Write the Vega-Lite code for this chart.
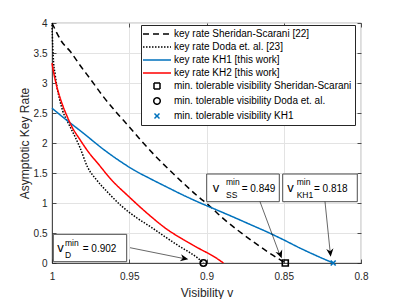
{
  "$schema": "https://vega.github.io/schema/vega-lite/v6.json",
  "width": 309,
  "height": 240,
  "autosize": {"type": "none"},
  "padding": {"left": 52, "top": 23, "right": 38, "bottom": 36},
  "background": "white",
  "config": {
    "font": "Liberation Sans",
    "view": {"stroke": "#262626", "strokeWidth": 0.8},
    "axis": {
      "labelFont": "Liberation Sans", "labelFontSize": 10, "labelColor": "#262626",
      "titleFont": "Liberation Sans", "titleFontSize": 12, "titleFontWeight": "normal", "titleColor": "#262626",
      "domainColor": "#262626", "domainWidth": 0.8, "tickColor": "#262626", "tickSize": -4, "tickWidth": 0.8,
      "gridColor": "#e3e3e3", "gridWidth": 1, "labelFlush": false, "labelOverlap": false
    },
    "axisX": {"tickCount": 4},
    "axisY": {"tickCount": 8},
    "legend": {
      "orient": "none", "legendX": 89, "legendY": 2, "title": null, "padding": 3,
      "fillColor": "white", "strokeColor": "#262626",
      "labelFont": "Liberation Sans", "labelFontSize": 10, "labelColor": "#000000", "labelLimit": 400,
      "symbolSize": 100, "symbolStrokeWidth": 1.5, "rowPadding": 2,
      "symbolOffset": 7, "labelOffset": 11, "symbolFillColor": "transparent"
    }
  },
  "datasets": {
    "curves": [
      {"series": "key rate Sheridan-Scarani [22]", "v": 1.0, "r": 4.0},
      {"series": "key rate Sheridan-Scarani [22]", "v": 0.997, "r": 3.84},
      {"series": "key rate Sheridan-Scarani [22]", "v": 0.994, "r": 3.7},
      {"series": "key rate Sheridan-Scarani [22]", "v": 0.988, "r": 3.52},
      {"series": "key rate Sheridan-Scarani [22]", "v": 0.982, "r": 3.3},
      {"series": "key rate Sheridan-Scarani [22]", "v": 0.975, "r": 3.06},
      {"series": "key rate Sheridan-Scarani [22]", "v": 0.967, "r": 2.78},
      {"series": "key rate Sheridan-Scarani [22]", "v": 0.958, "r": 2.5},
      {"series": "key rate Sheridan-Scarani [22]", "v": 0.95, "r": 2.27},
      {"series": "key rate Sheridan-Scarani [22]", "v": 0.942, "r": 2.03},
      {"series": "key rate Sheridan-Scarani [22]", "v": 0.933, "r": 1.78},
      {"series": "key rate Sheridan-Scarani [22]", "v": 0.924, "r": 1.55},
      {"series": "key rate Sheridan-Scarani [22]", "v": 0.915, "r": 1.33},
      {"series": "key rate Sheridan-Scarani [22]", "v": 0.906, "r": 1.12},
      {"series": "key rate Sheridan-Scarani [22]", "v": 0.898, "r": 0.95},
      {"series": "key rate Sheridan-Scarani [22]", "v": 0.89, "r": 0.76},
      {"series": "key rate Sheridan-Scarani [22]", "v": 0.88, "r": 0.55},
      {"series": "key rate Sheridan-Scarani [22]", "v": 0.87, "r": 0.36},
      {"series": "key rate Sheridan-Scarani [22]", "v": 0.86, "r": 0.18},
      {"series": "key rate Sheridan-Scarani [22]", "v": 0.849, "r": 0.0},
      {"series": "key rate Doda et. al. [23]", "v": 1.0, "r": 3.97},
      {"series": "key rate Doda et. al. [23]", "v": 0.9995, "r": 3.6},
      {"series": "key rate Doda et. al. [23]", "v": 0.999, "r": 3.35},
      {"series": "key rate Doda et. al. [23]", "v": 0.998, "r": 3.15},
      {"series": "key rate Doda et. al. [23]", "v": 0.997, "r": 2.97},
      {"series": "key rate Doda et. al. [23]", "v": 0.995, "r": 2.72},
      {"series": "key rate Doda et. al. [23]", "v": 0.993, "r": 2.53},
      {"series": "key rate Doda et. al. [23]", "v": 0.99, "r": 2.36},
      {"series": "key rate Doda et. al. [23]", "v": 0.9875, "r": 2.23},
      {"series": "key rate Doda et. al. [23]", "v": 0.985, "r": 2.1},
      {"series": "key rate Doda et. al. [23]", "v": 0.982, "r": 1.93},
      {"series": "key rate Doda et. al. [23]", "v": 0.977, "r": 1.6},
      {"series": "key rate Doda et. al. [23]", "v": 0.971, "r": 1.38},
      {"series": "key rate Doda et. al. [23]", "v": 0.964, "r": 1.18},
      {"series": "key rate Doda et. al. [23]", "v": 0.955, "r": 0.95},
      {"series": "key rate Doda et. al. [23]", "v": 0.945, "r": 0.75},
      {"series": "key rate Doda et. al. [23]", "v": 0.936, "r": 0.6},
      {"series": "key rate Doda et. al. [23]", "v": 0.927, "r": 0.44},
      {"series": "key rate Doda et. al. [23]", "v": 0.917, "r": 0.27},
      {"series": "key rate Doda et. al. [23]", "v": 0.91, "r": 0.16},
      {"series": "key rate Doda et. al. [23]", "v": 0.905, "r": 0.07},
      {"series": "key rate Doda et. al. [23]", "v": 0.902, "r": 0.0},
      {"series": "key rate KH1 [this work]", "v": 1.0, "r": 2.58},
      {"series": "key rate KH1 [this work]", "v": 0.99, "r": 2.37},
      {"series": "key rate KH1 [this work]", "v": 0.98, "r": 2.17},
      {"series": "key rate KH1 [this work]", "v": 0.967, "r": 1.9},
      {"series": "key rate KH1 [this work]", "v": 0.955, "r": 1.68},
      {"series": "key rate KH1 [this work]", "v": 0.947, "r": 1.55},
      {"series": "key rate KH1 [this work]", "v": 0.936, "r": 1.4},
      {"series": "key rate KH1 [this work]", "v": 0.926, "r": 1.27},
      {"series": "key rate KH1 [this work]", "v": 0.915, "r": 1.13},
      {"series": "key rate KH1 [this work]", "v": 0.904, "r": 1.0},
      {"series": "key rate KH1 [this work]", "v": 0.893, "r": 0.88},
      {"series": "key rate KH1 [this work]", "v": 0.883, "r": 0.77},
      {"series": "key rate KH1 [this work]", "v": 0.872, "r": 0.645},
      {"series": "key rate KH1 [this work]", "v": 0.861, "r": 0.52},
      {"series": "key rate KH1 [this work]", "v": 0.85, "r": 0.385},
      {"series": "key rate KH1 [this work]", "v": 0.84, "r": 0.255},
      {"series": "key rate KH1 [this work]", "v": 0.83, "r": 0.135},
      {"series": "key rate KH1 [this work]", "v": 0.818, "r": 0.0},
      {"series": "key rate KH2 [this work]", "v": 1.0, "r": 3.33},
      {"series": "key rate KH2 [this work]", "v": 0.9985, "r": 3.12},
      {"series": "key rate KH2 [this work]", "v": 0.997, "r": 2.95},
      {"series": "key rate KH2 [this work]", "v": 0.995, "r": 2.77},
      {"series": "key rate KH2 [this work]", "v": 0.9927, "r": 2.6},
      {"series": "key rate KH2 [this work]", "v": 0.99, "r": 2.43},
      {"series": "key rate KH2 [this work]", "v": 0.9873, "r": 2.28},
      {"series": "key rate KH2 [this work]", "v": 0.982, "r": 2.06},
      {"series": "key rate KH2 [this work]", "v": 0.977, "r": 1.87},
      {"series": "key rate KH2 [this work]", "v": 0.97, "r": 1.65},
      {"series": "key rate KH2 [this work]", "v": 0.962, "r": 1.4},
      {"series": "key rate KH2 [this work]", "v": 0.95, "r": 1.1},
      {"series": "key rate KH2 [this work]", "v": 0.938, "r": 0.82},
      {"series": "key rate KH2 [this work]", "v": 0.926, "r": 0.57},
      {"series": "key rate KH2 [this work]", "v": 0.915, "r": 0.39},
      {"series": "key rate KH2 [this work]", "v": 0.904, "r": 0.23},
      {"series": "key rate KH2 [this work]", "v": 0.896, "r": 0.12},
      {"series": "key rate KH2 [this work]", "v": 0.889, "r": 0.0}
    ],
    "markers": [
      {"series": "min. tolerable visibility Sheridan-Scarani", "v": 0.849, "r": 0},
      {"series": "min. tolerable visibility Doda et. al.", "v": 0.902, "r": 0},
      {"series": "min. tolerable visibility KH1", "v": 0.818, "r": 0}
    ]
  },
  "resolve": {"axis": {"x": "independent", "y": "independent"}},
  "layer": [
    {
      "layer": [
        {
          "data": {"name": "curves"},
          "mark": {"type": "line", "strokeWidth": 1.5, "interpolate": "monotone"},
          "encoding": {
            "x": {"field": "v", "type": "quantitative",
                  "scale": {"domain": [0.8, 1], "reverse": true, "nice": false, "zero": false},
                  "axis": {"tickCount": 4, "format": "~g", "title": "Visibility v", "labelPadding": 12, "titleY": 33.5, "titleBaseline": "alphabetic"}},
            "y": {"field": "r", "type": "quantitative",
                  "scale": {"domain": [0, 4], "nice": false},
                  "axis": {"tickCount": 8, "format": "~g", "title": "Asymptotic Key Rate", "labelPadding": 9, "titleX": -21, "titleY": 120}},
            "color": {"field": "series", "type": "nominal",
                      "scale": {"domain": ["key rate Sheridan-Scarani [22]", "key rate Doda et. al. [23]", "key rate KH1 [this work]", "key rate KH2 [this work]", "min. tolerable visibility Sheridan-Scarani", "min. tolerable visibility Doda et. al.", "min. tolerable visibility KH1"],
                                "range": ["#000000", "#000000", "#0072BD", "#FF0000", "#000000", "#000000", "#0072BD"]}},
            "strokeDash": {"field": "series", "type": "nominal",
                      "scale": {"domain": ["key rate Sheridan-Scarani [22]", "key rate Doda et. al. [23]", "key rate KH1 [this work]", "key rate KH2 [this work]", "min. tolerable visibility Sheridan-Scarani", "min. tolerable visibility Doda et. al.", "min. tolerable visibility KH1"],
                                "range": [[6, 4], [1.5, 1.5], [1, 0], [1, 0], [1, 0], [1, 0], [1, 0]]}}
          }
        },
        {
          "data": {"name": "markers"},
          "mark": {"type": "point", "filled": false, "size": 100, "strokeWidth": 1.6, "opacity": 1},
          "encoding": {
            "x": {"field": "v", "type": "quantitative"},
            "y": {"field": "r", "type": "quantitative"},
            "color": {"field": "series", "type": "nominal"},
            "shape": {"field": "series", "type": "nominal",
                      "scale": {"domain": ["key rate Sheridan-Scarani [22]", "key rate Doda et. al. [23]", "key rate KH1 [this work]", "key rate KH2 [this work]", "min. tolerable visibility Sheridan-Scarani", "min. tolerable visibility Doda et. al.", "min. tolerable visibility KH1"],
                                "range": ["M-2.8,0L2.8,0", "M-2.8,0L2.8,0", "M-2.8,0L2.8,0", "M-2.8,0L2.8,0", "M-0.6,-0.6L0.6,-0.6L0.6,0.6L-0.6,0.6Z", "M0.65,0A0.65,0.65 0 1,1 -0.65,0A0.65,0.65 0 1,1 0.65,0Z", "M-0.5,-0.5L0.5,0.5M-0.5,0.5L0.5,-0.5"]}}
          }
        },
        {
          "data": {"values": [{}]},
          "mark": {"type": "rect", "fill": "white", "stroke": "#4d4d4d", "strokeWidth": 1},
          "encoding": {"x": {"datum": 0.99916, "type": "quantitative"}, "x2": {"datum": 0.95165}, "y": {"datum": 0.0217, "type": "quantitative"}, "y2": {"datum": 0.478}}
        },
        {
          "data": {"values": [{}]},
          "mark": {"type": "rect", "fill": "white", "stroke": "#4d4d4d", "strokeWidth": 1},
          "encoding": {"x": {"datum": 0.89987, "type": "quantitative"}, "x2": {"datum": 0.85288}, "y": {"datum": 1.0217, "type": "quantitative"}, "y2": {"datum": 1.4833}}
        },
        {
          "data": {"values": [{}]},
          "mark": {"type": "rect", "fill": "white", "stroke": "#4d4d4d", "strokeWidth": 1},
          "encoding": {"x": {"datum": 0.85068, "type": "quantitative"}, "x2": {"datum": 0.8024}, "y": {"datum": 1.0217, "type": "quantitative"}, "y2": {"datum": 1.4833}}
        },
        {
          "data": {"values": [{}]},
          "mark": {"type": "text", "text": "v", "align": "left", "baseline": "alphabetic", "fontSize": 13, "color": "#000000"},
          "encoding": {"x": {"datum": 0.99657, "type": "quantitative"}, "y": {"datum": 0.1867, "type": "quantitative"}}
        },
        {
          "data": {"values": [{}]},
          "mark": {"type": "text", "text": "min", "align": "left", "baseline": "alphabetic", "fontSize": 8.5, "color": "#000000"},
          "encoding": {"x": {"datum": 0.99159, "type": "quantitative"}, "y": {"datum": 0.29, "type": "quantitative"}}
        },
        {
          "data": {"values": [{}]},
          "mark": {"type": "text", "text": "D", "align": "left", "baseline": "alphabetic", "fontSize": 8.5, "color": "#000000"},
          "encoding": {"x": {"datum": 0.99159, "type": "quantitative"}, "y": {"datum": 0.0833, "type": "quantitative"}}
        },
        {
          "data": {"values": [{}]},
          "mark": {"type": "text", "text": "= 0.902", "align": "left", "baseline": "alphabetic", "fontSize": 10, "color": "#000000"},
          "encoding": {"x": {"datum": 0.98013, "type": "quantitative"}, "y": {"datum": 0.1867, "type": "quantitative"}}
        },
        {
          "data": {"values": [{}]},
          "mark": {"type": "text", "text": "v", "align": "left", "baseline": "alphabetic", "fontSize": 13, "color": "#000000"},
          "encoding": {"x": {"datum": 0.89599, "type": "quantitative"}, "y": {"datum": 1.1883, "type": "quantitative"}}
        },
        {
          "data": {"values": [{}]},
          "mark": {"type": "text", "text": "min", "align": "left", "baseline": "alphabetic", "fontSize": 8.5, "color": "#000000"},
          "encoding": {"x": {"datum": 0.88738, "type": "quantitative"}, "y": {"datum": 1.2917, "type": "quantitative"}}
        },
        {
          "data": {"values": [{}]},
          "mark": {"type": "text", "text": "SS", "align": "left", "baseline": "alphabetic", "fontSize": 8.5, "color": "#000000"},
          "encoding": {"x": {"datum": 0.88738, "type": "quantitative"}, "y": {"datum": 1.0833, "type": "quantitative"}}
        },
        {
          "data": {"values": [{}]},
          "mark": {"type": "text", "text": "= 0.849", "align": "left", "baseline": "alphabetic", "fontSize": 10, "color": "#000000"},
          "encoding": {"x": {"datum": 0.87722, "type": "quantitative"}, "y": {"datum": 1.1883, "type": "quantitative"}}
        },
        {
          "data": {"values": [{}]},
          "mark": {"type": "text", "text": "v", "align": "left", "baseline": "alphabetic", "fontSize": 13, "color": "#000000"},
          "encoding": {"x": {"datum": 0.8477, "type": "quantitative"}, "y": {"datum": 1.1883, "type": "quantitative"}}
        },
        {
          "data": {"values": [{}]},
          "mark": {"type": "text", "text": "min", "align": "left", "baseline": "alphabetic", "fontSize": 8.5, "color": "#000000"},
          "encoding": {"x": {"datum": 0.84162, "type": "quantitative"}, "y": {"datum": 1.2917, "type": "quantitative"}}
        },
        {
          "data": {"values": [{}]},
          "mark": {"type": "text", "text": "KH1", "align": "left", "baseline": "alphabetic", "fontSize": 8.5, "color": "#000000"},
          "encoding": {"x": {"datum": 0.84162, "type": "quantitative"}, "y": {"datum": 1.0833, "type": "quantitative"}}
        },
        {
          "data": {"values": [{}]},
          "mark": {"type": "text", "text": "= 0.818", "align": "left", "baseline": "alphabetic", "fontSize": 10, "color": "#000000"},
          "encoding": {"x": {"datum": 0.83042, "type": "quantitative"}, "y": {"datum": 1.1883, "type": "quantitative"}}
        },
        {
          "data": {"values": [{}]},
          "mark": {"type": "rule", "color": "#000000", "strokeWidth": 0.6},
          "encoding": {"x": {"datum": 0.94951, "type": "quantitative"}, "y": {"datum": 0.255, "type": "quantitative"}, "x2": {"datum": 0.9135}, "y2": {"datum": 0.068}}
        },
        {
          "data": {"values": [{}]},
          "mark": {"type": "rule", "color": "#000000", "strokeWidth": 0.6},
          "encoding": {"x": {"datum": 0.86537, "type": "quantitative"}, "y": {"datum": 1.0217, "type": "quantitative"}, "x2": {"datum": 0.8522}, "y2": {"datum": 0.11}}
        },
        {
          "data": {"values": [{}]},
          "mark": {"type": "rule", "color": "#000000", "strokeWidth": 0.6},
          "encoding": {"x": {"datum": 0.8233, "type": "quantitative"}, "y": {"datum": 1.0217, "type": "quantitative"}, "x2": {"datum": 0.8198}, "y2": {"datum": 0.14}}
        },
        {
          "data": {"values": [{}]},
          "mark": {"type": "point", "shape": "M0,0L-1,-0.45L-0.7,0L-1,0.45Z", "size": 256, "filled": true, "color": "#000000", "opacity": 1, "angle": 11},
          "encoding": {"x": {"datum": 0.91178, "type": "quantitative"}, "y": {"datum": 0.0617, "type": "quantitative"}}
        },
        {
          "data": {"values": [{}]},
          "mark": {"type": "point", "shape": "M0,0L-1,-0.45L-0.7,0L-1,0.45Z", "size": 256, "filled": true, "color": "#000000", "opacity": 1, "angle": 69},
          "encoding": {"x": {"datum": 0.85133, "type": "quantitative"}, "y": {"datum": 0.0783, "type": "quantitative"}}
        },
        {
          "data": {"values": [{}]},
          "mark": {"type": "point", "shape": "M0,0L-1,-0.45L-0.7,0L-1,0.45Z", "size": 256, "filled": true, "color": "#000000", "opacity": 1, "angle": 84},
          "encoding": {"x": {"datum": 0.81961, "type": "quantitative"}, "y": {"datum": 0.105, "type": "quantitative"}}
        }
      ]
    },
    {
      "data": {"name": "markers"},
      "mark": {"type": "point", "opacity": 0},
      "encoding": {
        "x": {"field": "v", "type": "quantitative",
              "axis": {"orient": "top", "tickCount": 4, "labels": false, "title": null, "grid": false, "domain": false}},
        "y": {"field": "r", "type": "quantitative",
              "axis": {"orient": "right", "tickCount": 8, "labels": false, "title": null, "grid": false, "domain": false}}
      }
    }
  ]
}
